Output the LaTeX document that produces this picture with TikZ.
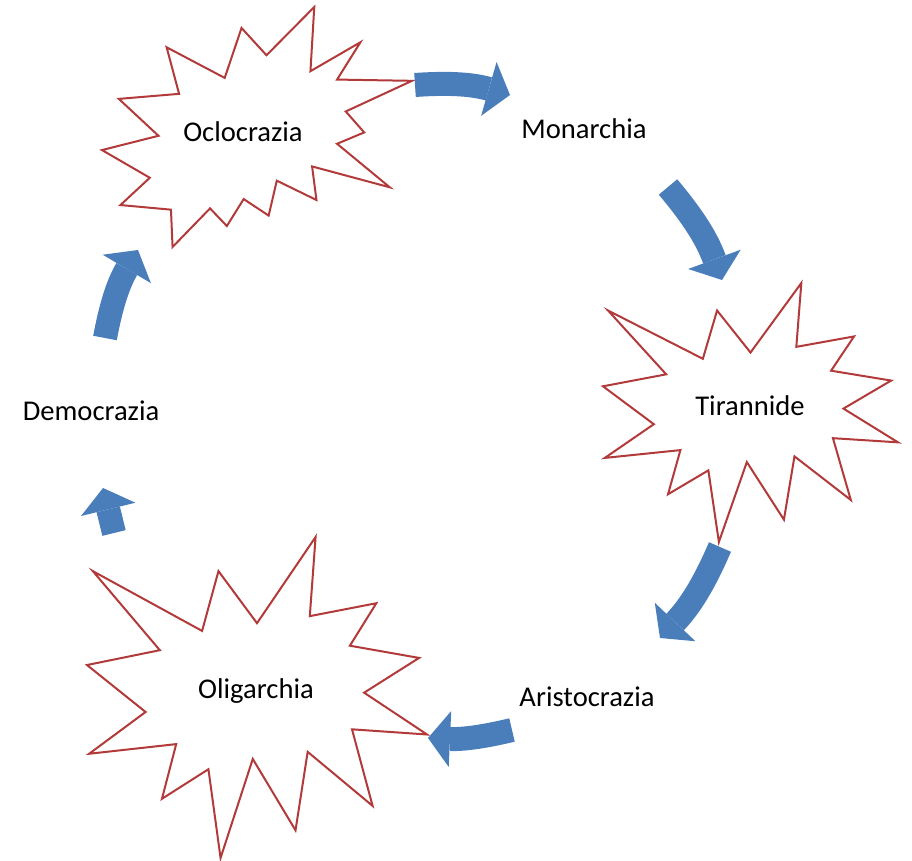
\documentclass[tikz,border=0pt]{standalone}
\usepackage{fontspec}
\setmainfont{Carlito}
\usetikzlibrary{arrows.meta}
\definecolor{starred}{HTML}{B23A3A}
\definecolor{arrowblue}{HTML}{4A7EBB}

% bursts drawn in a 216 x 216 box, then fitted to x0, y0, width, height
\newcommand{\explosionone}[4]{%
 \begin{scope}[shift={(#1,-#2)},xscale=#3/216,yscale=-#4/216]
  \draw[burst] (108,58) -- (145.22,0) -- (141.55,53.25) -- (183.80,44.57) -- (167.02,73.15)
   -- (210.97,81.37) -- (176.07,104.75) -- (216,132.90) -- (168.37,129.42) -- (181.45,180.95)
   -- (140.20,144.57) -- (132.47,197.37) -- (105.32,149.35) -- (84.85,216) -- (77.15,156.27)
   -- (47.62,176.17) -- (56.67,139.37) -- (1.35,145.87) -- (37.22,117.75) -- (0,86.15)
   -- (46.27,76.17) -- (3.70,22.95) -- (73.12,63.20) -- (83.52,22.95) -- cycle;
 \end{scope}}
\newcommand{\explosiontwo}[4]{%
 \begin{scope}[shift={(#1,-#2)},xscale=#3/216,yscale=-#4/216]
  \draw[burst] (114.62,43.42) -- (147.90,0) -- (145.25,57.77) -- (180.07,31.72) -- (163.80,65.32)
   -- (216,66.45) -- (169.85,94.02) -- (182.70,112.90) -- (163.80,123.10) -- (200.55,162.30)
   -- (146.40,143.50) -- (149.42,173.70) -- (121.80,156.32) -- (116.12,187.75) -- (98.72,172.85)
   -- (87,197.12) -- (75.27,181.25) -- (49.17,216) -- (48.05,182.40) -- (12.85,178.25)
   -- (33.30,153.70) -- (0,128.77) -- (39.35,115.92) -- (11.72,82.70) -- (53.72,78.17)
   -- (45.02,36.25) -- (85.50,63.82) -- (97.22,18.87) -- cycle;
 \end{scope}}

\begin{document}
\begin{tikzpicture}[
 x=0.5pt,y=0.5pt,
 font=\fontsize{14.3}{17}\selectfont,
 burst/.style={draw=starred,fill=white,line width=1pt},
 lbl/.style={anchor=base,inner sep=0pt},
 cyc/.style={draw=arrowblue,line width=12pt,-{Triangle[length=11pt,width=28pt,line width=0pt]}}
]
\useasboundingbox (0,0) rectangle (912,-861);

\explosiontwo{102}{7}{310}{240}
\explosionone{603}{283}{295}{259}
\explosionone{87}{537}{340}{321}

\node[lbl] (ocl) at (243,-142) {Oclocrazia};
\node[lbl] (mon) at (584,-139) {Monarchia};
\node[lbl] (tir) at (750,-416) {Tirannide};
\node[lbl] (ari) at (587,-707) {Aristocrazia};
\node[lbl] (oli) at (256,-699) {Oligarchia};
\node[lbl] (dem) at (91,-421) {Democrazia};

\coordinate (a1s) at (415,-85);  \coordinate (a1e) at (510,-95);
\coordinate (a2s) at (668,-187); \coordinate (a2e) at (722,-280);
\coordinate (a3s) at (720,-547); \coordinate (a3e) at (660,-638);
\coordinate (a4s) at (512,-730); \coordinate (a4e) at (428,-738);
\coordinate (a5s) at (114,-533); \coordinate (a5e) at (103,-488);
\coordinate (a6s) at (105,-338); \coordinate (a6e) at (138,-250);

\draw[cyc] (a1s) to[bend left=10] (a1e);
\draw[cyc] (a2s) to[bend left=10] (a2e);
\draw[cyc] (a3s) to[bend left=10] (a3e);
\draw[cyc] (a4s) to[bend left=8] (a4e);
\draw[cyc] (a5s) -- (a5e);
\draw[cyc] (a6s) to[bend left=10] (a6e);
\end{tikzpicture}
\end{document}
